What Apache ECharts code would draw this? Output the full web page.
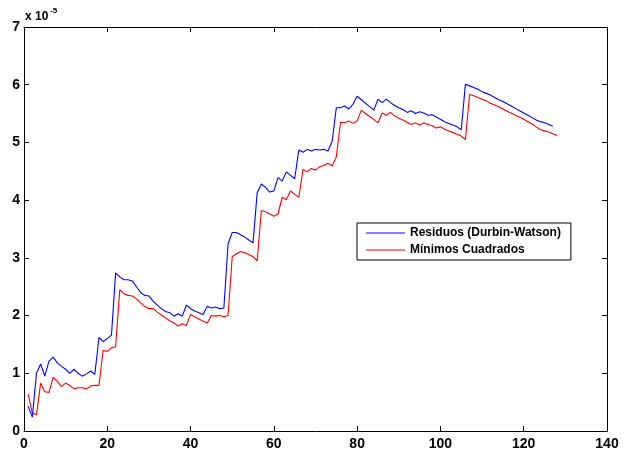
<!DOCTYPE html>
<html>
<head>
<meta charset="utf-8">
<script src="https://cdn.jsdelivr.net/npm/echarts@6/dist/echarts.min.js"></script>
<style>
  html, body { margin: 0; padding: 0; background: #ffffff; }
  #chart { width: 635px; height: 451px; }
</style>
</head>
<body>
<div id="chart"></div>
<script>
// Residual series, in units of 1e-5, one value per observation (x = 1, 2, 3, ...)
const residuosDurbinWatson = [
  0.43, 0.24, 1.00, 1.16, 0.95, 1.21, 1.28, 1.18, 1.12, 1.07,
  1.00, 1.07, 1.00, 0.95, 0.99, 1.04, 0.98, 1.62, 1.55, 1.60,
  1.66, 2.74, 2.67, 2.62, 2.62, 2.60, 2.50, 2.40, 2.35, 2.34,
  2.25, 2.18, 2.12, 2.07, 2.05, 1.99, 2.03, 1.99, 2.18, 2.12,
  2.08, 2.05, 2.02, 2.16, 2.13, 2.15, 2.12, 2.13, 3.24, 3.44,
  3.44, 3.40, 3.36, 3.31, 3.26, 4.13, 4.28, 4.22, 4.14, 4.16,
  4.39, 4.33, 4.49, 4.43, 4.37, 4.87, 4.83, 4.88, 4.85, 4.88,
  4.87, 4.88, 4.85, 5.02, 5.60, 5.60, 5.63, 5.58, 5.66, 5.80,
  5.74, 5.68, 5.62, 5.56, 5.75, 5.69, 5.75, 5.69, 5.64, 5.60,
  5.57, 5.52, 5.55, 5.50, 5.53, 5.51, 5.47, 5.48, 5.44, 5.40,
  5.36, 5.33, 5.30, 5.27, 5.22, 6.01, 5.98, 5.95, 5.92, 5.88,
  5.85, 5.82, 5.78, 5.74, 5.71, 5.67, 5.63, 5.59, 5.55, 5.51,
  5.47, 5.43, 5.39, 5.36, 5.34, 5.31, 5.28
];

const minimosCuadrados = [
  0.64, 0.31, 0.28, 0.83, 0.68, 0.67, 0.93, 0.86, 0.77, 0.83,
  0.79, 0.73, 0.75, 0.75, 0.73, 0.78, 0.79, 0.79, 1.40, 1.38,
  1.44, 1.46, 2.45, 2.38, 2.35, 2.34, 2.29, 2.22, 2.16, 2.12,
  2.12, 2.06, 2.01, 1.96, 1.91, 1.87, 1.82, 1.86, 1.83, 2.02,
  1.98, 1.94, 1.90, 1.87, 2.00, 1.99, 2.00, 1.98, 2.00, 3.02,
  3.07, 3.11, 3.09, 3.06, 3.02, 2.95, 3.82, 3.80, 3.76, 3.72,
  3.76, 4.05, 4.01, 4.16, 4.10, 4.05, 4.53, 4.49, 4.55, 4.52,
  4.58, 4.60, 4.64, 4.59, 4.75, 5.35, 5.34, 5.37, 5.33, 5.37,
  5.56, 5.50, 5.45, 5.40, 5.34, 5.51, 5.47, 5.52, 5.46, 5.42,
  5.39, 5.35, 5.31, 5.34, 5.30, 5.34, 5.31, 5.29, 5.25, 5.27,
  5.23, 5.20, 5.17, 5.14, 5.11, 5.05, 5.83, 5.81, 5.78, 5.75,
  5.72, 5.68, 5.65, 5.62, 5.58, 5.54, 5.51, 5.47, 5.44, 5.40,
  5.36, 5.32, 5.27, 5.22, 5.20, 5.18, 5.15, 5.12
];

const seriesNames = ['Residuos (Durbin-Watson)', 'Mínimos Cuadrados'];
const seriesColors = ['#0000ff', '#ff0000'];

// x-axis range / ticks and y-axis range / ticks (y in units of 1e-5)
const xRange = { min: 0, max: 140, step: 20 };
const yRange = { min: 0, max: 7, step: 1 };
const yScaleLabel = ['x 10', '-5'];

const FONT = '"Liberation Sans", Arial, Helvetica, sans-serif';

function toPairs(values) {
  return values.map((v, i) => [i + 1, v]);
}

function boxAxis(range, position, showLabels) {
  return {
    type: 'value',
    position: position,
    min: range.min,
    max: range.max,
    interval: range.step,
    axisLine: { show: true, onZero: false, lineStyle: { color: '#000', width: 1 } },
    axisTick: { show: true, inside: true, length: 5, lineStyle: { color: '#000', width: 1 } },
    axisLabel: {
      show: showLabels,
      color: '#000',
      fontFamily: FONT,
      fontWeight: 'bold',
      fontSize: 14,
      margin: position === 'bottom' ? 6 : 4
    },
    splitLine: { show: false }
  };
}

const chart = echarts.init(document.getElementById('chart'), null, { renderer: 'canvas' });

chart.setOption({
  animation: false,
  backgroundColor: '#ffffff',
  grid: { left: 24, right: 28, top: 27, bottom: 18, containLabel: false },
  xAxis: [
    boxAxis(xRange, 'bottom', true),
    boxAxis(xRange, 'top', false)
  ],
  yAxis: [
    boxAxis(yRange, 'left', true),
    boxAxis(yRange, 'right', false)
  ],
  legend: {
    orient: 'vertical',
    left: 357,
    top: 223,
    backgroundColor: '#ffffff',
    borderColor: '#000',
    borderWidth: 1,
    padding: [3, 10, 3, 9],
    itemGap: 3,
    itemWidth: 39,
    itemHeight: 1,
    icon: 'rect',
    textStyle: { color: '#000', fontFamily: FONT, fontWeight: 'bold', fontSize: 12, lineHeight: 14 },
    data: seriesNames
  },
  graphic: [
    {
      type: 'text', left: 25, top: 11,
      style: { text: yScaleLabel[0], fill: '#000', font: 'bold 12px ' + FONT }
    },
    {
      type: 'text', left: 50, top: 7,
      style: { text: yScaleLabel[1], fill: '#000', font: 'bold 8px ' + FONT }
    }
  ],
  series: [
    {
      name: seriesNames[0],
      type: 'line',
      data: toPairs(residuosDurbinWatson),
      symbol: 'none',
      color: seriesColors[0],
      lineStyle: { color: seriesColors[0], width: 1.1 },
      z: 3
    },
    {
      name: seriesNames[1],
      type: 'line',
      data: toPairs(minimosCuadrados),
      symbol: 'none',
      color: seriesColors[1],
      lineStyle: { color: seriesColors[1], width: 1.1 },
      z: 2
    }
  ]
});
</script>
</body>
</html>
